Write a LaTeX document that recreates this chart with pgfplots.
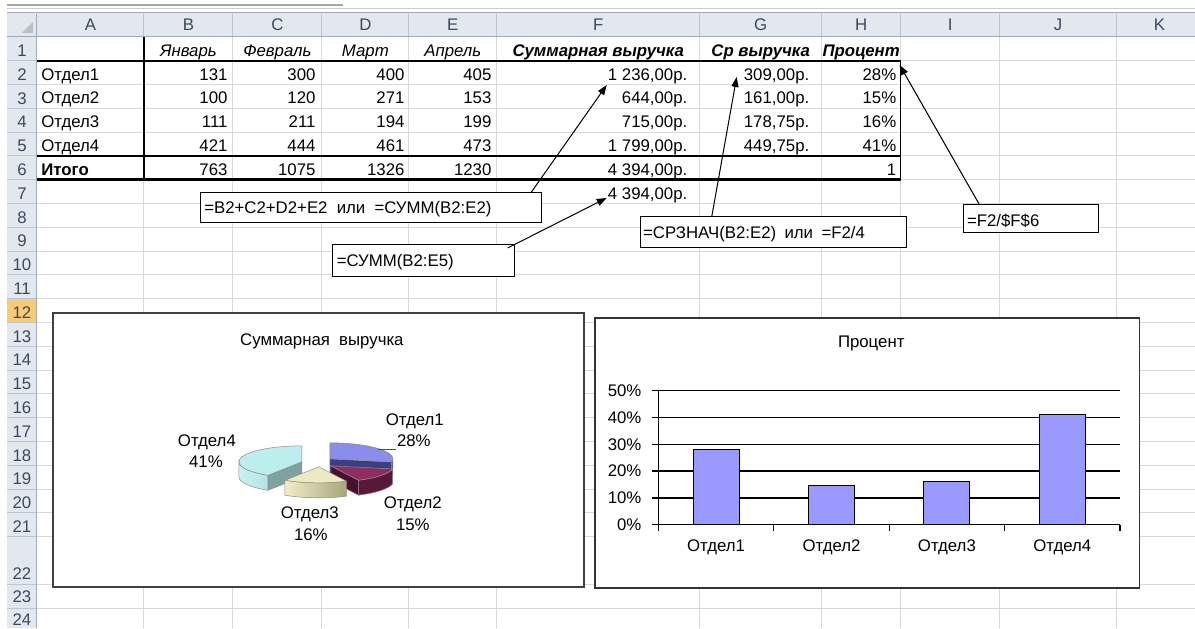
\documentclass[border=0pt]{standalone}
\usepackage{fontspec}
\setmainfont{Liberation Sans}
\usepackage{pgfplots}
\pgfplotsset{compat=1.18}
\usetikzlibrary{arrows.meta}
\newcommand\cf{\fontsize{8.4}{10}\selectfont}
\definecolor{hdr}{HTML}{E3E8EE}
\definecolor{hdrsel}{HTML}{F8CB75}
\definecolor{hdrsep}{HTML}{BCC6D2}
\definecolor{hdrline}{HTML}{9EAABB}
\definecolor{hdrtext}{HTML}{3A4A60}
\definecolor{gridc}{HTML}{D9D9D9}
\definecolor{barc}{HTML}{9999FF}
\definecolor{c1top}{HTML}{8C8CEC}
\definecolor{c1cut}{HTML}{3D3D80}
\definecolor{c1rim}{HTML}{4B4B95}
\definecolor{c2top}{HTML}{8F2D5E}
\definecolor{c2cut}{HTML}{4A0F2E}
\definecolor{c2rim}{HTML}{5A1838}
\definecolor{c3top}{HTML}{ECEAC0}
\definecolor{c3l}{HTML}{EFEDC8}
\definecolor{c3r}{HTML}{A9A57C}
\definecolor{c4top}{HTML}{BDEEEE}
\definecolor{c4l}{HTML}{C8F2F2}
\definecolor{c4r}{HTML}{A2D2D2}
\definecolor{c4cut}{HTML}{7FA29E}
\tikzset{cell/.style={inner sep=0pt,font=\cf}}
% pie data (Суммарная выручка)
\def\vA{1236}\def\vB{644}\def\vC{715}\def\vD{1799}
\pgfmathsetmacro\tot{\vA+\vB+\vC+\vD}
\pgfmathsetmacro\aB{90-\vA/\tot*360}
\pgfmathsetmacro\aC{\aB-\vB/\tot*360}
\pgfmathsetmacro\aD{\aC-\vC/\tot*360}
\pgfmathsetmacro\aBp{\aB+180}
\pgfmathsetmacro\aCp{\aC+180}
\pgfmathsetmacro\aDp{\aD+180}
\def\rx{31.5pt}\def\ry{8pt}\def\dep{7.5pt}
\tikzset{rim/.style={canvas polar cs={angle=#1,x radius=31.5pt,y radius=8pt}}}
\newcommand\E[1]{(canvas polar cs:angle=#1,x radius=31.5pt,y radius=8pt)}
\begin{document}
\begin{tikzpicture}
\begin{axis}[at={(0,0)},anchor=south west,width=597.5pt,height=314pt,scale only axis,
  xmin=0,xmax=1195,ymin=0,ymax=628,y dir=reverse,hide axis,clip=false]
\fill[white] (0,0) rectangle (1195,628);
% top strip
\draw[black!35,line width=0.8pt] (7,5) -- (343,5);
\draw[black!20,line width=0.5pt] (7,8) -- (1195,8);
% headers
\fill[hdr] (7,12.5) rectangle (1195,37);
\fill[hdr] (7,37) rectangle (37,628);
\fill[hdrsel] (7,298.8) rectangle (37,322.6);
\fill[black!25] (33,22) -- (33,33) -- (22,33) -- cycle;
% grid
\pgfplotsinvokeforeach{1,...,21}{\draw[gridc,line width=0.5pt] (37,{37+#1*23.8}) -- (1195,{37+#1*23.8});
 \draw[hdrsep,line width=0.5pt] (7,{37+#1*23.8}) -- (37,{37+#1*23.8});}
\pgfplotsinvokeforeach{585,609}{\draw[gridc,line width=0.5pt] (37,#1) -- (1195,#1);
 \draw[hdrsep,line width=0.5pt] (7,#1) -- (37,#1);}
\pgfplotsinvokeforeach{144,233,322,409,497,700,822,901,1000,1117}{\draw[gridc,line width=0.5pt] (#1,37) -- (#1,628);
 \draw[hdrsep,line width=0.5pt] (#1,14) -- (#1,37);}
\draw[hdrline,line width=0.5pt] (7,12.5) -- (1195,12.5);
\draw[hdrline,line width=0.5pt] (7,37) -- (1195,37);
\draw[hdrline,line width=0.5pt] (37,14) -- (37,628);
% column letters
\node[cell,anchor=base,text=hdrtext] at (90.5,31) {A};
\node[cell,anchor=base,text=hdrtext] at (188.5,31) {B};
\node[cell,anchor=base,text=hdrtext] at (277.5,31) {C};
\node[cell,anchor=base,text=hdrtext] at (365.5,31) {D};
\node[cell,anchor=base,text=hdrtext] at (453,31) {E};
\node[cell,anchor=base,text=hdrtext] at (598.5,31) {F};
\node[cell,anchor=base,text=hdrtext] at (761,31) {G};
\node[cell,anchor=base,text=hdrtext] at (861.5,31) {H};
\node[cell,anchor=base,text=hdrtext] at (950.5,31) {I};
\node[cell,anchor=base,text=hdrtext] at (1058.5,31) {J};
\node[cell,anchor=base,text=hdrtext] at (1160,31) {K};
% row numbers
\pgfplotsinvokeforeach{1,...,21}{\node[cell,anchor=base,text=hdrtext] at (22,{32.8+#1*23.8}) {#1};}
\node[cell,anchor=base,text=hdrtext] at (22,580) {22};
\node[cell,anchor=base,text=hdrtext] at (22,603) {23};
\node[cell,anchor=base,text=hdrtext] at (22,626) {24};
% borders
\draw[black,line width=0.8pt] (37,60.8) -- (901,60.8);
\draw[black,line width=0.8pt] (37,156) -- (901,156);
\draw[black,line width=1.4pt] (37,179.8) -- (901,179.8);
\draw[black,line width=0.8pt] (144,37) -- (144,180.5);
\draw[black,line width=0.7pt] (901,60.8) -- (901,180.5);
% row 1
\node[cell,anchor=base] at (188.5,56.3) {\itshape Январь};
\node[cell,anchor=base] at (277.5,56.3) {\itshape Февраль};
\node[cell,anchor=base] at (365.5,56.3) {\itshape Март};
\node[cell,anchor=base] at (453,56.3) {\itshape Апрель};
\node[cell,anchor=base] at (598.5,56.3) {\bfseries\itshape Суммарная выручка};
\node[cell,anchor=base] at (761,56.3) {\bfseries\itshape Ср выручка};
\node[cell,anchor=base] at (861.5,56.3) {\bfseries\itshape Процент};
% row 2
\node[cell,anchor=base west] at (41,80.1) {Отдел1};
\node[cell,anchor=base east] at (228,80.1) {131};
\node[cell,anchor=base east] at (316,80.1) {300};
\node[cell,anchor=base east] at (405,80.1) {400};
\node[cell,anchor=base east] at (492,80.1) {405};
\node[cell,anchor=base east] at (688,80.1) {1 236,00р.};
\node[cell,anchor=base east] at (810,80.1) {309,00р.};
\node[cell,anchor=base east] at (897,80.1) {28\%};
% row 3
\node[cell,anchor=base west] at (41,103.9) {Отдел2};
\node[cell,anchor=base east] at (228,103.9) {100};
\node[cell,anchor=base east] at (316,103.9) {120};
\node[cell,anchor=base east] at (405,103.9) {271};
\node[cell,anchor=base east] at (492,103.9) {153};
\node[cell,anchor=base east] at (688,103.9) {644,00р.};
\node[cell,anchor=base east] at (810,103.9) {161,00р.};
\node[cell,anchor=base east] at (897,103.9) {15\%};
% row 4
\node[cell,anchor=base west] at (41,127.7) {Отдел3};
\node[cell,anchor=base east] at (228,127.7) {111};
\node[cell,anchor=base east] at (316,127.7) {211};
\node[cell,anchor=base east] at (405,127.7) {194};
\node[cell,anchor=base east] at (492,127.7) {199};
\node[cell,anchor=base east] at (688,127.7) {715,00р.};
\node[cell,anchor=base east] at (810,127.7) {178,75р.};
\node[cell,anchor=base east] at (897,127.7) {16\%};
% row 5
\node[cell,anchor=base west] at (41,151.5) {Отдел4};
\node[cell,anchor=base east] at (228,151.5) {421};
\node[cell,anchor=base east] at (316,151.5) {444};
\node[cell,anchor=base east] at (405,151.5) {461};
\node[cell,anchor=base east] at (492,151.5) {473};
\node[cell,anchor=base east] at (688,151.5) {1 799,00р.};
\node[cell,anchor=base east] at (810,151.5) {449,75р.};
\node[cell,anchor=base east] at (897,151.5) {41\%};
% row 6
\node[cell,anchor=base west] at (41,175.3) {\bfseries Итого};
\node[cell,anchor=base east] at (228,175.3) {763};
\node[cell,anchor=base east] at (316,175.3) {1075};
\node[cell,anchor=base east] at (405,175.3) {1326};
\node[cell,anchor=base east] at (492,175.3) {1230};
\node[cell,anchor=base east] at (688,175.3) {4 394,00р.};
\node[cell,anchor=base east] at (897,175.3) {1};
% row 7
\node[cell,anchor=base east] at (688,199.1) {4 394,00р.};
% formula boxes
\draw[black,line width=0.5pt,fill=white] (201,193) rectangle (542,223);
\node[cell,anchor=base west] at (204,213.5) {=B2+C2+D2+E2\hspace{0.55em}или\hspace{0.55em}=СУММ(B2:E2)};
\draw[black,line width=0.5pt,fill=white] (333,245) rectangle (515,277);
\node[cell,anchor=base west] at (336.5,266.5) {=СУММ(B2:E5)};
\draw[black,line width=0.5pt,fill=white] (641,217) rectangle (907,248);
\node[cell,anchor=base west] at (643,238.5) {=СРЗНАЧ(B2:E2)\hspace{0.5em}или\hspace{0.5em}=F2/4};
\draw[black,line width=0.5pt,fill=white] (964,205) rectangle (1099,233);
\node[cell,anchor=base west] at (967,227) {=F2/\$F\$6};
% arrows
\draw[black,line width=0.5pt,-{Triangle[length=5pt,width=3.6pt]}] (531,193) -- (607,85);
\draw[black,line width=0.5pt,-{Triangle[length=5pt,width=3.6pt]}] (508,248) -- (607,198);
\draw[black,line width=0.5pt,-{Triangle[length=5pt,width=3.6pt]}] (712,217) -- (737,77);
\draw[black,line width=0.5pt,-{Triangle[length=5pt,width=3.6pt]}] (980,205) -- (900,65);
% chart frames
\draw[black!75,line width=0.9pt,fill=white] (53,313) rectangle (584,587);
\draw[black!80,line width=0.9pt,fill=white] (595,318) rectangle (1140,588);
\node[cell,anchor=base] at (322,346) {Суммарная\hspace{0.55em}выручка};
\node[cell,anchor=base] at (871.6,348) {Процент};
% ---- 3D pie: Отдел4
\fill[c4cut,draw=black!45,line width=0.25pt] (302,462) -- ++\E{\aD} -- ++(0pt,-7.5pt) -- ++\E{\aDp} -- cycle;
\shade[left color=c4l,right color=c4r,draw=black!45,line width=0.25pt] (302,462) ++\E{-180} arc[start angle=-180,end angle=\aD,x radius=\rx,y radius=\ry] -- ++(0pt,-7.5pt) arc[start angle=\aD,end angle=-180,x radius=\rx,y radius=\ry] -- cycle;
\fill[c4top,draw=black!45,line width=0.25pt] (302,462) -- ++\E{\aD} arc[start angle=\aD,end angle=-270,x radius=\rx,y radius=\ry] -- cycle;
% Отдел1
\fill[c1cut,draw=black!45,line width=0.25pt] (330,459) -- ++\E{\aB} -- ++(0pt,-7.5pt) -- ++\E{\aBp} -- cycle;
\fill[c1rim,draw=black!45,line width=0.25pt] (330,459) ++\E{\aB} arc[start angle=\aB,end angle=0,x radius=\rx,y radius=\ry] -- ++(0pt,-7.5pt) arc[start angle=0,end angle=\aB,x radius=\rx,y radius=\ry] -- cycle;
\fill[c1top,draw=black!45,line width=0.25pt] (330,459) -- ++\E{90} arc[start angle=90,end angle=\aB,x radius=\rx,y radius=\ry] -- cycle;
% Отдел2
\fill[c2cut,draw=black!45,line width=0.25pt] (331,466) -- ++\E{\aC} -- ++(0pt,-7.5pt) -- ++\E{\aCp} -- cycle;
\fill[c2rim,draw=black!45,line width=0.25pt] (331,466) ++\E{\aB} arc[start angle=\aB,end angle=\aC,x radius=\rx,y radius=\ry] -- ++(0pt,-7.5pt) arc[start angle=\aC,end angle=\aB,x radius=\rx,y radius=\ry] -- cycle;
\fill[c2top,draw=black!45,line width=0.25pt] (331,466) -- ++\E{\aB} arc[start angle=\aB,end angle=\aC,x radius=\rx,y radius=\ry] -- cycle;
% Отдел3
\shade[left color=c3l,right color=c3r,draw=black!45,line width=0.25pt] (319,467) ++\E{\aC} arc[start angle=\aC,end angle=\aD,x radius=\rx,y radius=\ry] -- ++(0pt,-7.5pt) arc[start angle=\aD,end angle=\aC,x radius=\rx,y radius=\ry] -- cycle;
\fill[c3top,draw=black!45,line width=0.25pt] (319,467) -- ++\E{\aC} arc[start angle=\aC,end angle=\aD,x radius=\rx,y radius=\ry] -- cycle;
% pie labels
\draw[black!70,line width=0.4pt] (378,450) -- (396,450);
\node[cell,anchor=base] at (415,426) {Отдел1};
\node[cell,anchor=base] at (414,447) {28\%};
\node[cell,anchor=base] at (413,509) {Отдел2};
\node[cell,anchor=base] at (413,531) {15\%};
\node[cell,anchor=base] at (310,519) {Отдел3};
\node[cell,anchor=base] at (311,541) {16\%};
\node[cell,anchor=base] at (207,447) {Отдел4};
\node[cell,anchor=base] at (206,468) {41\%};
\end{axis}
% ---- bar chart "Процент"
\begin{axis}[at={(329.35pt,51.5pt)},anchor=south west,width=230.9pt,height=67.15pt,scale only axis,
  xmin=0.5,xmax=4.5,ymin=0,ymax=50,
  axis x line*=bottom,axis y line*=left,
  axis line style={black,line width=0.6pt},
  tick align=outside,major tick length=3pt,
  tick style={black,line width=0.6pt},
  ytick={0,10,20,30,40,50},
  yticklabels={0\%,10\%,20\%,30\%,40\%,50\%},
  ymajorgrids,grid style={black,line width=0.6pt},
  xtick={0.5,1.5,2.5,3.5,4.5},xticklabels={},
  extra x ticks={1,2,3,4},
  extra x tick labels={Отдел1,Отдел2,Отдел3,Отдел4},
  extra x tick style={major tick length=0pt,grid=none},
  tick label style={font=\cf},
  yticklabel style={xshift=-2pt},
  xticklabel style={yshift=-4pt}]
\addplot[ybar,bar width=23pt,fill=barc,draw=black,line width=0.5pt] coordinates {(1,28.13) (2,14.66) (3,16.27) (4,40.94)};
\end{axis}
\end{tikzpicture}
\end{document}
